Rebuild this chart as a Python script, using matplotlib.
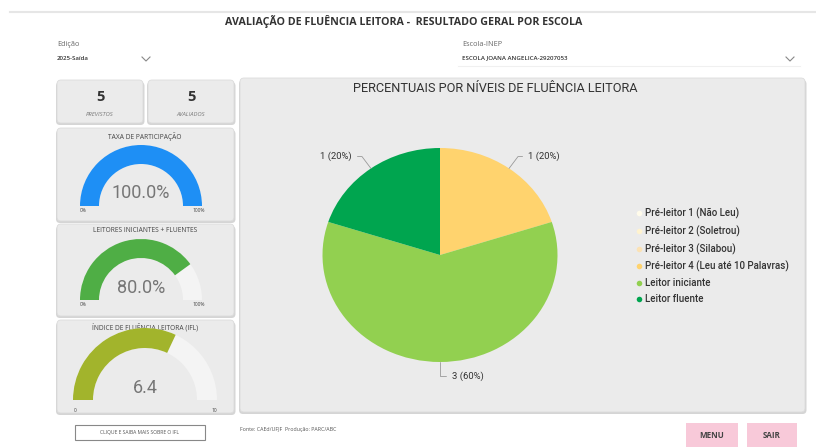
import matplotlib
matplotlib.use('Agg')
import matplotlib.pyplot as plt
import numpy as np
from matplotlib.patches import FancyBboxPatch, Wedge, Rectangle
from matplotlib.lines import Line2D

# dados do painel
niveis = ['Pré-leitor 1 (Não Leu)', 'Pré-leitor 2 (Soletrou)', 'Pré-leitor 3 (Silabou)',
          'Pré-leitor 4 (Leu até 10 Palavras)', 'Leitor iniciante', 'Leitor fluente']
qtd = [0, 0, 0, 1, 3, 1]
cores = ['#FFFBEA', '#FFF3CF', '#FCE2B4', '#FFD36E', '#92D050', '#00A54F']

previstos = 5
avaliados = 5
taxa_participacao = 100.0
leitores_inic_flu = 80.0
ifl = 6.4
ifl_max = 10

edicao = '2025-Saída'
escola = 'ESCOLA JOANA ANGELICA-29207053'

W, H = 816, 447
fig = plt.figure(figsize=(W / 100, H / 100), dpi=100)
fig.patch.set_facecolor('white')
ax = fig.add_axes([0, 0, 1, 1])
ax.set_xlim(0, W)
ax.set_ylim(H, 0)
ax.axis('off')

FONT = 'Open Sans'
CARD = '#EBEBEB'


def card(x0, y0, x1, y1, fc=CARD):
    sh = FancyBboxPatch((x0 - 1, y0 + 2), x1 - x0 + 2.5, y1 - y0, boxstyle='round,pad=0,rounding_size=4',
                        fc='#C4C4C4', ec='none', alpha=0.7, zorder=1)
    ax.add_patch(sh)
    c = FancyBboxPatch((x0, y0), x1 - x0, y1 - y0, boxstyle='round,pad=0,rounding_size=4',
                       fc=fc, ec='#DCDCDC', lw=0.6, zorder=2)
    ax.add_patch(c)


def gauge(cx, cy, r, w, frac, color, bg='#F4F4F4'):
    # eixo y invertido: 180->360 e o semicirculo de cima
    ax.add_patch(Wedge((cx, cy), r, 180, 360, width=w, fc=bg, ec='none', zorder=3))
    ax.add_patch(Wedge((cx, cy), r, 180, 180 + 180 * frac, width=w, fc=color, ec='none', zorder=4))


def chevron(x, y):
    ax.plot([x - 4, x, x + 4], [y - 2, y + 2, y - 2], color='#888888', lw=0.8, zorder=3)


# cabecalho
ax.plot([10, W], [12, 12], color='#E6E6E6', lw=1.5)
ax.text(404, 22, 'AVALIAÇÃO DE FLUÊNCIA LEITORA -  RESULTADO GERAL POR ESCOLA', ha='center', va='center',
        fontsize=7.7, fontweight='bold', color='#333333', family=FONT)

ax.text(57, 44, 'Edição', fontsize=5.2, color='#666666', va='center', family=FONT)
ax.text(57, 58, edicao, fontsize=4.4, fontweight='semibold', color='#333333', va='center', family=FONT)
chevron(146, 59)
ax.text(462, 44, 'Escola-INEP', fontsize=5.2, color='#666666', va='center', family=FONT)
ax.text(462, 58, escola, fontsize=4.4, fontweight='semibold', color='#333333', va='center', family=FONT)
chevron(790, 59)
ax.plot([458, 800], [66, 66], color='#F0F0F0', lw=0.8)

# cartoes da esquerda
card(57, 80, 143, 123)
card(148, 80, 234, 123)
ax.text(100, 97, str(previstos), ha='center', va='center', fontsize=10.5, fontweight='bold',
        color='#333333', family=FONT)
ax.text(100, 114, 'PREVISTOS', ha='center', va='center', fontsize=4.2, style='italic',
        color='#777777', family=FONT)
ax.text(191, 97, str(avaliados), ha='center', va='center', fontsize=10.5, fontweight='bold',
        color='#333333', family=FONT)
ax.text(191, 114, 'AVALIADOS', ha='center', va='center', fontsize=4.2, style='italic',
        color='#777777', family=FONT)

card(57, 128, 234, 221)
ax.text(145, 137, 'TAXA DE PARTICIPAÇÃO', ha='center', va='center', fontsize=4.8,
        color='#444444', family=FONT)
gauge(141, 206, 61, 19, taxa_participacao / 100, '#1E8FF5')
ax.text(141, 193, f'{taxa_participacao:.1f}%', ha='center', va='center', fontsize=13,
        color='#767676', family='Roboto')
ax.text(80, 211, '0%', ha='left', va='center', fontsize=3.5, color='#444444', family=FONT)
ax.text(205, 211, '100%', ha='right', va='center', fontsize=3.5, color='#444444', family=FONT)

card(57, 224, 234, 316)
ax.text(145, 231, 'LEITORES INICIANTES + FLUENTES', ha='center', va='center', fontsize=4.8,
        color='#444444', family=FONT)
gauge(141, 300, 61, 19, leitores_inic_flu / 100, '#4FAE45')
ax.text(141, 288, f'{leitores_inic_flu:.1f}%', ha='center', va='center', fontsize=13,
        color='#767676', family='Roboto')
ax.text(80, 305, '0%', ha='left', va='center', fontsize=3.5, color='#444444', family=FONT)
ax.text(205, 305, '100%', ha='right', va='center', fontsize=3.5, color='#444444', family=FONT)

card(57, 320, 234, 413)
ax.text(145, 327, 'ÍNDICE DE FLUÊNCIA LEITORA (IFL)', ha='center', va='center', fontsize=4.8,
        color='#444444', family=FONT)
gauge(145, 400, 72, 20, ifl / ifl_max, '#A2B42C')
ax.text(145, 388, f'{ifl:.1f}', ha='center', va='center', fontsize=13,
        color='#767676', family='Roboto')
ax.text(74, 410, '0', ha='left', va='center', fontsize=3.5, color='#444444', family=FONT)
ax.text(217, 410, '10', ha='right', va='center', fontsize=3.5, color='#444444', family=FONT)

ax.add_patch(Rectangle((75, 425), 130, 15, fc='white', ec='#888888', lw=0.8, zorder=3))
ax.text(140, 432.5, 'CLIQUE E SAIBA MAIS SOBRE O IFL', ha='center', va='center', fontsize=3.6,
        color='#555555', family=FONT, zorder=4)

# cartao principal
card(240, 78, 805, 412)
ax.text(495, 89, 'PERCENTUAIS POR NÍVEIS DE FLUÊNCIA LEITORA', ha='center', va='center',
        fontsize=9.2, color='#333333', family='Roboto')

# rodape
ax.text(240, 430, 'Fonte: CAEd/UFJF  Produção: PARC/ABC', ha='left', va='center', fontsize=3.8,
        color='#555555', family=FONT)
for x0, x1, txt in [(686, 738, 'MENU'), (747, 797, 'SAIR')]:
    ax.add_patch(Rectangle((x0, 423), x1 - x0, 24, fc='#F8C9D9', ec='none', zorder=2))
    ax.text((x0 + x1) / 2, 436, txt, ha='center', va='center', fontsize=5.8, fontweight='bold',
            color='#444444', family=FONT, zorder=3)

# pizza
cx, cy, rx, ry = 440, 255, 117.5, 107
pax = fig.add_axes([(cx - rx) / W, 1 - (cy + ry) / H, 2 * rx / W, 2 * ry / H])
pax.set_zorder(5)
vals = [v for v in qtd if v > 0]
cols = [c for v, c in zip(qtd, cores) if v > 0]
wedges, _ = pax.pie(vals, colors=cols, startangle=90, counterclock=False,
                    wedgeprops=dict(linewidth=0))
pax.set_aspect('auto')
pax.set_xlim(-1, 1)
pax.set_ylim(-1, 1)
pax.patch.set_alpha(0)

total = sum(vals)
for wdg, v in zip(wedges, vals):
    ang = np.deg2rad((wdg.theta1 + wdg.theta2) / 2)
    px, py = np.cos(ang), np.sin(ang)
    lbl = f'{v} ({v / total * 100:.0f}%)'
    if abs(px) < 0.2:
        tx, ty, ha = px + 0.1, -1.13, 'left'
        cs = 'angle,angleA=0,angleB=90,rad=0'
    else:
        tx = 0.75 * np.sign(px)
        ty = 0.92
        ha = 'left' if px > 0 else 'right'
        cs = 'angle,angleA=0,angleB=%d,rad=0' % int(np.rad2deg(ang))
    pax.annotate(lbl, xy=(px, py), xytext=(tx, ty), ha=ha, va='center', fontsize=6.8,
                 color='#333333', family='Roboto', annotation_clip=False,
                 arrowprops=dict(arrowstyle='-', color='#999999', lw=0.6, connectionstyle=cs,
                                 shrinkA=2, shrinkB=0))

handles = [Line2D([], [], marker='o', linestyle='none', markersize=4, markerfacecolor=c,
                  markeredgecolor='none') for c in cores]
leg = fig.legend(handles, niveis, loc='upper left', bbox_to_anchor=(637 / W, 1 - 208 / H),
                 frameon=False, fontsize=7, labelspacing=0.63, handlelength=0.5,
                 handletextpad=0.3, borderpad=0, borderaxespad=0)
for t in leg.get_texts():
    t.set_color('#333333')
    t.set_family('Roboto')
    t.set_fontweight('medium')

fig.savefig('out.png', dpi=100, facecolor='white')
